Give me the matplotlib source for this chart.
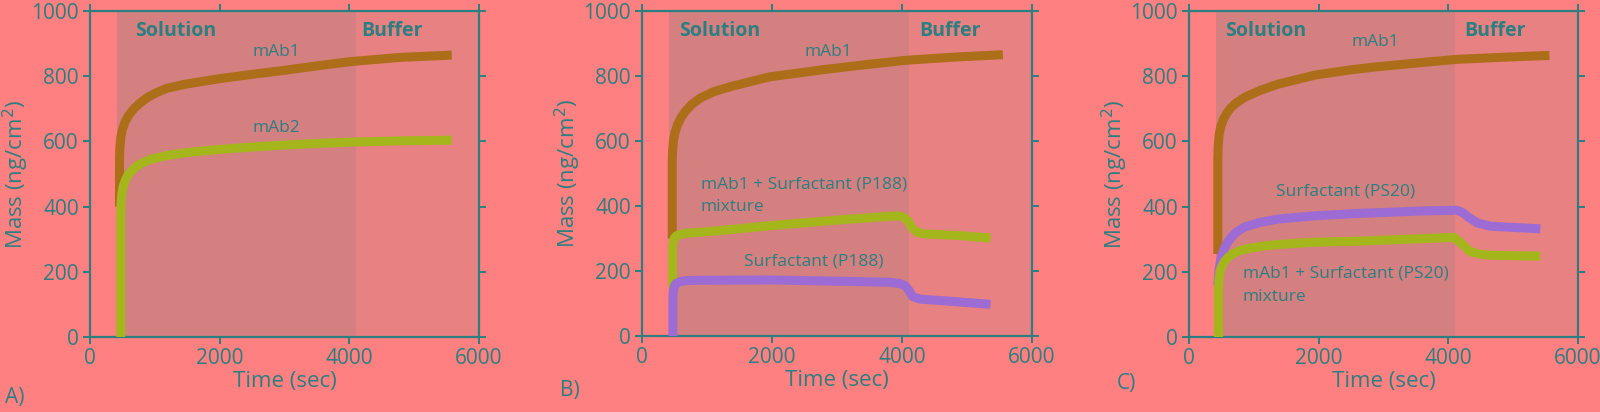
import numpy as np
import matplotlib.pyplot as plt

plt.rcParams['font.family'] = ['Open Sans', 'DejaVu Sans']

# ---- colours
BG = '#FF8080'
SOL = '#D48080'
BUF = '#E88181'
TEAL = '#2B7F80'
BROWN = '#AD6E1A'
GREEN = '#A5B61C'
PURPLE = '#9C6BD3'

# ---- phases (sec)
SOLUTION_START = 415
BUFFER_START = 4100

# ---- panel A
a_mab1_t = [455, 455, 460, 475, 500, 540, 600, 680, 771, 900, 1050, 1183, 1450, 2005, 2500, 2982, 3500, 4010, 4781, 5580]
a_mab1_y = [400, 540, 578, 612, 637, 660, 681, 701, 718, 737, 752, 763, 775, 793, 806, 818, 832, 845, 858, 865]
a_mab2_t = [473, 473, 478, 490, 510, 540, 580, 650, 720, 800, 950, 1183, 1500, 2005, 2500, 2982, 3500, 4010, 4781, 5580]
a_mab2_y = [0, 370, 405, 437, 460, 479, 495, 512, 524, 534, 546, 557, 566, 576, 583, 589, 594, 598, 602, 604]

# ---- panel B
b_mab1_t = [465, 465, 470, 485, 510, 550, 600, 660, 760, 892, 1100, 1405, 1969, 2500, 2789, 3559, 4073, 4843, 5550]
b_mab1_y = [300, 535, 570, 603, 628, 652, 672, 690, 712, 732, 752, 770, 798, 812, 820, 838, 849, 859, 866]
b_mix_t = [470, 470, 478, 495, 530, 600, 700, 900, 1149, 1969, 3046, 3816, 3950, 4021, 4090, 4150, 4227, 4330, 4843, 5360]
b_mix_y = [150, 268, 288, 301, 309, 314, 317, 320, 324, 340, 358, 369, 370, 366, 355, 335, 320, 315, 310, 302]
b_p188_t = [475, 475, 482, 498, 530, 590, 680, 892, 1969, 3046, 3800, 3970, 4050, 4110, 4160, 4278, 4843, 5360]
b_p188_y = [0, 118, 140, 155, 163, 168, 171, 172, 173, 169, 166, 162, 155, 140, 122, 114, 106, 98]

# ---- panel C
c_mab1_t = [445, 445, 450, 465, 490, 530, 580, 640, 720, 864, 1100, 1377, 1948, 2500, 2848, 3620, 4134, 4905, 5560]
c_mab1_y = [255, 545, 585, 620, 646, 668, 686, 702, 717, 736, 757, 776, 804, 820, 828, 843, 852, 859, 864]
c_ps20_t = [445, 460, 480, 504, 540, 590, 650, 730, 864, 1100, 1377, 1948, 2591, 3620, 4134, 4220, 4330, 4450, 4648, 5420]
c_ps20_y = [160, 200, 228, 250, 270, 289, 305, 322, 338, 352, 362, 372, 379, 387, 389, 382, 365, 350, 340, 332]
c_mix_t = [455, 455, 462, 478, 504, 540, 600, 680, 780, 900, 1100, 1377, 1948, 2591, 3620, 4083, 4185, 4339, 4500, 4648, 5420]
c_mix_y = [0, 148, 178, 200, 216, 230, 244, 256, 265, 271, 278, 284, 291, 294, 302, 306, 290, 262, 254, 251, 248]

# label text, x, y for each panel
a_labels = [('mAb1', 2514, 875), ('mAb2', 2514, 641)]
b_labels = [('mAb1', 2506, 874), ('mAb1 + Surfactant (P188)', 904, 467),
            ('mixture', 904, 397), ('Surfactant (P188)', 1572, 230)]
c_labels = [('mAb1', 2504, 904), ('Surfactant (PS20)', 1342, 447),
            ('mAb1 + Surfactant (PS20)', 828, 194), ('mixture', 828, 124)]


def style_axes(ax, labels, sol_x, buf_x):
    ax.set_facecolor(BG)
    ax.axvspan(SOLUTION_START, BUFFER_START, color=SOL, lw=0, zorder=0)
    ax.axvspan(BUFFER_START, 6000, color=BUF, lw=0, zorder=0)
    ax.set_xlim(0, 6000)
    ax.set_ylim(0, 1000)
    ax.set_xticks([0, 2000, 4000, 6000])
    ax.set_yticks([0, 200, 400, 600, 800, 1000])
    for s in ax.spines.values():
        s.set_color(TEAL)
        s.set_linewidth(1.6)
    ax.tick_params(direction='out', length=5, width=1.4, color=TEAL,
                   labelcolor=TEAL, labelsize=15, pad=3,
                   top=True, right=True)
    ax.set_xlabel('Time (sec)', color=TEAL, fontsize=16, labelpad=1)
    ax.set_ylabel('Mass (ng/cm$^2$)', color=TEAL, fontsize=16, va='center')
    ax.yaxis.set_label_coords(-0.19, 0.5)
    ax.text(sol_x, 940, 'Solution', color=TEAL, fontsize=14,
            fontweight='bold', ha='left', va='center')
    ax.text(buf_x, 940, 'Buffer', color=TEAL, fontsize=14,
            fontweight='bold', ha='left', va='center')
    for txt, x, y in labels:
        ax.text(x, y, txt, color=TEAL, fontsize=12.5, ha='left', va='center')


def curve(ax, t, y, color):
    ax.plot(t, y, color=color, lw=6.5, solid_capstyle='butt',
            solid_joinstyle='round', zorder=3)


fig = plt.figure(figsize=(16, 4.12), dpi=100)
fig.patch.set_facecolor(BG)

axA = fig.add_axes([0.05625, 0.182, 0.2431, 0.791])
axB = fig.add_axes([0.40125, 0.184, 0.2438, 0.789])
axC = fig.add_axes([0.74312, 0.182, 0.2431, 0.791])

style_axes(axA, a_labels, 690, 4190)
curve(axA, a_mab1_t, a_mab1_y, BROWN)
curve(axA, a_mab2_t, a_mab2_y, GREEN)

style_axes(axB, b_labels, 570, 4263)
curve(axB, b_mab1_t, b_mab1_y, BROWN)
curve(axB, b_mix_t, b_mix_y, GREEN)
curve(axB, b_p188_t, b_p188_y, PURPLE)

style_axes(axC, c_labels, 560, 4253)
curve(axC, c_mab1_t, c_mab1_y, BROWN)
curve(axC, c_ps20_t, c_ps20_y, PURPLE)
curve(axC, c_mix_t, c_mix_y, GREEN)

fig.text(0.003, 0.034, 'A)', color=TEAL, fontsize=15, ha='left', va='center')
fig.text(0.35, 0.053, 'B)', color=TEAL, fontsize=15, ha='left', va='center')
fig.text(0.698, 0.07, 'C)', color=TEAL, fontsize=15, ha='left', va='center')

fig.savefig('out.png', dpi=100, facecolor=BG)
